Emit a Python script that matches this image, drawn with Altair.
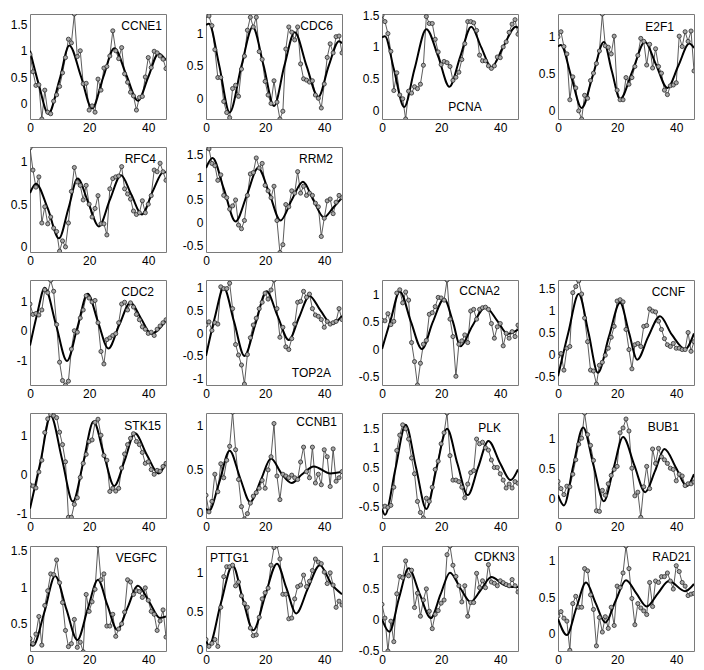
import altair as alt
import pandas as pd

# ---------------- data ----------------
hours = list(range(47))

CCNE1_obs = [0.93,0.6,0.34,0.35,-0.3,0.25,-0.17,-0.2,0.04,0.16,0.32,0.58,0.87,1.22,1.15,1.7,0.89,1.0,0.37,0.38,-0.13,-0.05,-0.17,0.46,0.25,0.67,0.7,0.9,1.38,1.0,0.85,1.06,0.56,0.4,0.21,0.14,-0.13,0.11,0.13,0.5,0.87,0.68,0.99,0.96,0.9,0.84,0.66]
CCNE1_fit_t = [0,3,6.2,10,13.3,17.3,21,24.8,28.5,32.5,36.5,40,43.5,46]
CCNE1_fit_v = [1.0,0.35,-0.2,0.45,1.1,0.5,-0.1,0.5,1.05,0.55,0.05,0.5,0.95,0.82]

CDC6_obs = [1.28,1.27,1.12,0.75,0.32,0.32,-0.05,-0.22,-0.3,0.15,0.2,0.03,0.45,0.65,1.05,1.25,1.1,1.25,0.72,0.6,0.26,0.05,-0.08,0.27,-0.06,-0.32,-0.2,0.76,1.1,1.02,0.9,1.1,0.53,0.3,0.28,0.25,0.27,0.05,0.0,-0.15,0.22,0.63,0.84,0.7,0.95,0.96,0.7]
CDC6_fit_t = [0,1,4.5,8,12,15.8,19.5,23,26.5,30,34,38,41.5,45,46]
CDC6_fit_v = [1.13,1.15,0.5,-0.22,0.5,1.1,0.5,-0.12,0.5,1.02,0.5,0.02,0.5,0.88,0.85]

PCNA_obs = [1.5,1.4,1.21,0.93,0.31,0.59,0.24,0.18,-0.14,0.3,0.27,0.37,0.34,0.41,0.71,1.48,1.37,1.37,1.12,0.92,0.72,0.77,0.75,0.69,0.47,0.52,0.6,0.8,1.05,1.4,1.4,1.38,1.26,0.87,0.78,0.78,0.7,0.66,0.7,0.84,0.83,1.0,1.08,1.23,1.36,1.43,1.2]
PCNA_fit_t = [0,1,4,7.5,11,15,19,22.8,26.5,30.2,33.5,37,41,45.3,46]
PCNA_fit_v = [1.15,1.17,0.65,0.05,0.65,1.28,0.85,0.37,0.85,1.32,1.0,0.68,1.0,1.32,1.3]

E2F1_obs = [0.99,1.06,0.86,0.76,0.14,0.45,0.3,-0.01,-0.12,0.2,0.16,0.4,0.5,0.63,0.8,1.3,0.87,0.85,0.76,1.0,0.27,0.14,0.14,0.44,0.35,0.44,0.59,0.74,0.97,0.93,0.61,0.89,0.57,0.83,0.59,0.5,0.27,0.21,0.33,0.34,0.37,1.0,0.86,1.06,0.93,1.07,0.53]
E2F1_fit_t = [0,1,4.5,8,11.8,15.5,18.2,21,25.2,29.4,33.2,37,40.7,44.4,46]
E2F1_fit_v = [0.86,0.88,0.45,0.03,0.47,0.92,0.53,0.15,0.53,0.92,0.61,0.3,0.6,0.9,0.84]

RFC4_obs = [1.16,0.9,0.7,0.82,0.28,0.47,0.27,0.35,0.22,0.18,-0.05,0.07,0.0,0.28,0.65,0.93,0.76,0.72,0.55,0.72,0.5,0.35,0.45,0.6,0.27,0.27,0.14,0.68,0.8,0.82,0.83,0.94,0.68,0.62,0.56,0.42,0.38,0.4,0.54,0.4,0.5,0.6,0.9,0.88,0.98,0.88,0.78]
RFC4_fit_t = [0,2,6,9.8,13,16.1,19.7,23.3,27,30.8,34.3,37.8,41.5,45.2,46]
RFC4_fit_v = [0.63,0.74,0.45,0.1,0.45,0.8,0.52,0.24,0.55,0.84,0.61,0.38,0.65,0.88,0.87]

RRM2_obs = [1.65,1.62,1.3,1.25,0.93,1.05,0.6,0.55,0.3,0.37,0.5,-0.05,-0.13,0.05,0.6,1.07,1.1,1.42,1.2,1.3,0.82,0.7,0.55,0.8,0.05,-0.65,-0.48,0.4,0.35,0.7,0.65,1.12,0.65,0.8,0.6,0.65,0.6,0.43,0.35,-0.3,0.1,0.48,0.52,0.2,0.45,0.6,0.55]
RRM2_fit_t = [0,2.2,6,10,13.8,17.6,21.4,25.2,29,32.8,36.3,39.9,43,46]
RRM2_fit_v = [1.2,1.42,0.75,0.03,0.6,1.2,0.65,0.05,0.5,0.9,0.5,0.12,0.33,0.55]

CDC2_obs = [0.9,0.55,0.58,0.53,0.7,1.38,1.28,1.7,1.33,0.21,-1.06,-1.68,-1.83,-1.7,-0.62,0.0,-0.05,0.43,0.7,1.18,1.1,0.97,1.02,0.27,-0.7,-1.12,-0.3,-0.24,-0.16,-0.1,0.27,0.9,0.96,0.7,0.94,0.8,0.55,0.37,0.13,0.05,-0.09,-0.05,-0.16,0.05,0.16,0.27,0.37]
CDC2_fit_t = [0,2.5,5,8.8,12.5,16,19.5,23,26.5,30.2,34,37.5,41,46]
CDC2_fit_v = [-0.5,0.6,1.45,0.2,-1.02,0.1,1.25,0.3,-0.6,0.2,0.95,0.42,-0.1,0.35]

TOP2A_obs = [0.18,0.25,0.06,0.23,0.2,1.02,0.98,0.98,1.1,0.54,-0.25,-0.48,-0.7,-1.12,-0.47,-0.1,0.18,0.33,0.54,0.68,0.88,0.75,0.95,1.17,0.54,-0.09,0.13,-0.3,-0.36,-0.12,0.2,0.68,0.7,0.92,0.79,0.86,0.54,0.4,0.37,0.3,0.13,0.26,0.2,0.23,0.26,0.54,0.3]
TOP2A_fit_t = [0,3,6,9.5,13,16.7,20.5,24.2,28,31.5,35,38.7,42.5,46]
TOP2A_fit_v = [-0.5,0.35,1.0,0.25,-0.5,0.2,0.92,0.38,-0.15,0.35,0.82,0.5,0.2,0.38]

CCNA2_obs = [0.53,0.52,0.65,0.45,0.51,1.03,1.09,0.85,1.05,0.9,0.12,-0.23,-0.66,-0.26,0.09,0.16,0.64,0.67,0.78,0.95,0.94,0.9,1.27,0.55,0.23,-0.5,0.09,0.15,0.26,0.12,0.7,0.73,0.55,0.73,0.76,0.77,0.73,0.47,0.2,0.41,0.47,0.06,0.29,0.2,0.32,0.23,0.44]
CCNA2_fit_t = [0,3,6,9.8,13.5,17.2,21,24,26.5,30.5,35,39,42.5,46]
CCNA2_fit_v = [0.0,0.55,1.06,0.5,0.0,0.5,0.92,0.5,0.05,0.42,0.77,0.52,0.28,0.36]

CCNF_obs = [-0.04,0.02,-0.36,0.14,0.18,1.41,1.55,1.68,1.38,0.83,0.29,-0.36,-0.38,-0.68,-0.25,-0.18,-0.02,0.14,0.39,0.64,1.22,1.25,1.2,0.57,0.11,-0.33,0.22,0.25,0.18,0.64,0.66,1.04,0.99,0.97,0.76,0.57,0.36,0.22,0.18,0.25,0.14,0.14,0.11,0.11,0.5,0.07,0.29]
CCNF_fit_t = [0,3.5,7,10.3,13.5,17.2,21,24,26.8,30.5,34.5,38.5,43,46]
CCNF_fit_v = [-0.5,0.5,1.38,0.5,-0.42,0.4,1.18,0.5,-0.12,0.4,0.87,0.45,0.12,0.48]

STK15_obs = [-0.27,-0.3,-0.35,0.06,0.36,1.07,1.42,1.53,1.5,1.45,1.08,0.76,0.32,-1.1,-1.1,-0.77,-0.6,-0.08,0.28,0.51,0.84,0.88,1.33,1.41,1.0,0.48,0.36,-0.44,-0.36,-0.43,-0.36,0.16,0.52,0.76,0.92,1.04,0.84,0.76,0.56,0.28,0.32,0.12,0.0,0.1,0.08,0.2,0.28]
STK15_fit_t = [0,3.5,7,10.8,14.5,18,21.5,25,28.5,32,35.5,39.5,43.5,46]
STK15_fit_v = [-0.88,0.3,1.5,0.4,-0.7,0.3,1.35,0.5,-0.3,0.35,1.05,0.5,0.02,0.3]

CCNB1_obs = [0.2,0.01,0.13,0.44,0.24,0.56,0.4,0.6,0.76,1.15,0.72,0.38,0.07,-0.07,-0.01,0.11,0.19,0.23,0.28,0.37,0.28,0.49,0.64,1.02,0.42,0.15,0.44,0.42,0.4,0.43,0.4,0.38,0.58,0.75,0.47,0.4,0.75,0.34,0.44,0.32,0.72,0.64,0.3,0.73,0.36,0.4,0.47]
CCNB1_fit_t = [0,1,4.5,8,11.5,15,18.5,22,25.5,29,32.5,36.5,42,46]
CCNB1_fit_v = [0.05,0.02,0.35,0.71,0.4,0.12,0.37,0.62,0.45,0.34,0.44,0.53,0.45,0.47]

PLK_obs = [-0.5,-0.48,-0.51,-0.46,0.0,0.93,1.32,1.58,1.48,1.22,0.74,0.34,-0.36,-0.64,-0.78,-0.28,-0.36,0.0,0.45,0.66,1.1,1.38,1.88,0.8,0.18,0.18,0.14,0.0,-0.27,0.08,0.37,0.42,1.22,1.1,1.14,1.0,0.94,0.69,0.5,0.5,0.34,0.18,-0.02,0.08,-0.02,0.14,0.1]
PLK_fit_t = [0,1,4.5,8,11.5,15,18.5,22,25.5,29,32.5,36,40,43.5,46]
PLK_fit_v = [-0.55,-0.7,0.45,1.58,0.5,-0.55,0.5,1.48,0.6,-0.2,0.5,1.17,0.6,0.18,0.45]

BUB1_obs = [0.28,0.16,0.06,0.2,0.19,0.4,0.64,0.9,1.0,1.42,1.06,0.88,0.63,-0.21,-0.22,0.13,0.05,0.24,0.38,0.48,0.53,1.09,1.17,1.32,1.12,0.5,0.04,0.1,-0.32,0.19,0.53,0.16,0.82,0.58,0.83,0.69,0.64,0.58,0.5,0.48,0.29,0.4,0.37,0.21,0.24,0.24,0.27]
BUB1_fit_t = [0,2,5.2,8.5,12,15.5,18.8,22,25.8,29.5,32.8,36,40,43.5,46]
BUB1_fit_v = [0.05,-0.12,0.55,1.18,0.55,-0.05,0.5,1.02,0.55,0.1,0.45,0.82,0.5,0.2,0.4]

VEGFC_obs = [0.3,0.23,0.36,0.6,0.21,0.75,0.95,1.18,1.17,1.37,1.06,0.79,0.41,0.19,0.23,0.56,0.18,0.25,0.12,0.9,0.67,0.8,0.97,1.57,1.1,1.18,0.47,0.47,0.63,0.33,0.43,0.5,0.66,1.1,1.07,0.9,0.95,0.94,0.86,0.99,0.82,0.67,0.63,0.41,0.54,0.69,0.32]
VEGFC_fit_t = [0,1,4.8,8.5,12.3,16,19.5,23,26.2,29.5,33,36.5,40.3,44,46]
VEGFC_fit_v = [0.22,0.2,0.65,1.15,0.7,0.28,0.7,1.1,0.75,0.42,0.72,1.02,0.8,0.58,0.6]

PTTG1_obs = [0.13,0.04,0.08,0.13,0.04,0.55,0.95,1.08,1.08,1.1,0.83,0.88,0.7,0.6,0.55,0.28,0.18,0.19,0.42,0.66,0.74,0.8,1.1,1.33,1.36,1.18,0.72,0.72,0.4,0.41,0.66,0.82,0.84,0.97,0.82,0.89,1.03,1.18,1.14,1.12,1.01,0.86,1.0,0.84,0.55,0.63,0.58]
PTTG1_fit_t = [0,1,5,9,12.5,16,20,24,27.2,30.5,34.5,38.5,42.5,46]
PTTG1_fit_v = [0.12,0.05,0.6,1.1,0.65,0.25,0.7,1.12,0.8,0.47,0.8,1.1,0.85,0.72]

CDKN3_obs = [0.24,0.02,-0.51,-0.03,-0.36,0.41,0.69,0.67,0.94,0.7,0.79,0.19,0.42,0.05,0.31,0.49,0.13,-0.15,0.08,0.14,0.26,0.31,1.04,1.18,0.87,0.69,0.54,0.28,0.54,0.05,0.27,0.27,0.74,0.51,0.62,0.51,0.88,0.6,0.58,0.54,0.62,0.59,0.56,0.54,0.64,0.54,0.44]
CDKN3_fit_t = [0,2.5,5.8,9,12.8,16.5,19.8,23,26.5,30,33.5,37,41,44,46]
CDKN3_fit_v = [0.0,-0.2,0.35,0.82,0.4,0.02,0.4,0.75,0.5,0.28,0.48,0.68,0.56,0.52,0.52]

RAD21_obs = [0.24,0.3,0.21,0.17,-0.23,0.41,0.51,0.36,0.36,0.89,0.86,0.53,0.33,-0.17,0.22,0.02,0.23,0.07,0.36,0.11,0.65,0.63,0.83,1.2,0.89,0.48,0.12,0.41,0.35,0.31,0.26,0.7,0.37,0.72,0.7,0.78,0.78,0.83,0.72,0.61,0.93,0.85,0.7,0.65,0.52,0.54,0.55]
RAD21_fit_t = [0,3,6.2,9.5,12.7,16,19.5,23,26.5,30,33.8,37.5,43,46]
RAD21_fit_v = [0.2,-0.02,0.35,0.7,0.42,0.15,0.45,0.73,0.55,0.37,0.55,0.72,0.58,0.68]

# y-axis domain and tick values for each panel
y_domains = {
    "CCNE1": [-0.3, 1.7], "CDC6": [-0.32, 1.3], "PCNA": [-0.14, 1.52], "E2F1": [-0.12, 1.3],
    "RFC4": [-0.06, 1.17], "RRM2": [-0.64, 1.66],
    "CDC2": [-1.83, 1.71], "TOP2A": [-1.14, 1.17], "CCNA2": [-0.66, 1.27], "CCNF": [-0.7, 1.7],
    "STK15": [-1.12, 1.57], "CCNB1": [-0.06, 1.14], "PLK": [-0.78, 1.88], "BUB1": [-0.33, 1.42],
    "VEGFC": [0.13, 1.56], "PTTG1": [-0.02, 1.35], "CDKN3": [-0.51, 1.18], "RAD21": [-0.24, 1.2],
}
y_ticks = {
    "CCNE1": [0, 0.5, 1, 1.5], "CDC6": [0, 0.5, 1], "PCNA": [0, 0.5, 1, 1.5], "E2F1": [0, 0.5, 1],
    "RFC4": [0, 0.5, 1], "RRM2": [-0.5, 0, 0.5, 1, 1.5],
    "CDC2": [-1, 0, 1], "TOP2A": [-1, -0.5, 0, 0.5, 1], "CCNA2": [-0.5, 0, 0.5, 1], "CCNF": [-0.5, 0, 0.5, 1, 1.5],
    "STK15": [-1, 0, 1], "CCNB1": [0, 0.5, 1], "PLK": [-0.5, 0, 0.5, 1, 1.5], "BUB1": [0, 0.5, 1],
    "VEGFC": [0.5, 1, 1.5], "PTTG1": [0, 0.5, 1], "CDKN3": [-0.5, 0, 0.5, 1], "RAD21": [0, 0.5, 1],
}
x_ticks = [0, 20, 40]

layout_rows = [
    ["CCNE1", "CDC6", "PCNA", "E2F1"],
    ["RFC4", "RRM2", None, None],
    ["CDC2", "TOP2A", "CCNA2", "CCNF"],
    ["STK15", "CCNB1", "PLK", "BUB1"],
    ["VEGFC", "PTTG1", "CDKN3", "RAD21"],
]

series = {
    "CCNE1": (CCNE1_obs, CCNE1_fit_t, CCNE1_fit_v), "CDC6": (CDC6_obs, CDC6_fit_t, CDC6_fit_v),
    "PCNA": (PCNA_obs, PCNA_fit_t, PCNA_fit_v), "E2F1": (E2F1_obs, E2F1_fit_t, E2F1_fit_v),
    "RFC4": (RFC4_obs, RFC4_fit_t, RFC4_fit_v), "RRM2": (RRM2_obs, RRM2_fit_t, RRM2_fit_v),
    "CDC2": (CDC2_obs, CDC2_fit_t, CDC2_fit_v), "TOP2A": (TOP2A_obs, TOP2A_fit_t, TOP2A_fit_v),
    "CCNA2": (CCNA2_obs, CCNA2_fit_t, CCNA2_fit_v), "CCNF": (CCNF_obs, CCNF_fit_t, CCNF_fit_v),
    "STK15": (STK15_obs, STK15_fit_t, STK15_fit_v), "CCNB1": (CCNB1_obs, CCNB1_fit_t, CCNB1_fit_v),
    "PLK": (PLK_obs, PLK_fit_t, PLK_fit_v), "BUB1": (BUB1_obs, BUB1_fit_t, BUB1_fit_v),
    "VEGFC": (VEGFC_obs, VEGFC_fit_t, VEGFC_fit_v), "PTTG1": (PTTG1_obs, PTTG1_fit_t, PTTG1_fit_v),
    "CDKN3": (CDKN3_obs, CDKN3_fit_t, CDKN3_fit_v), "RAD21": (RAD21_obs, RAD21_fit_t, RAD21_fit_v),
}

# ---------------- styling ----------------
W, H = 136, 105
FONT = "Liberation Sans"

# gene-name label placement: (align, offset from left/right edge, y from top)
label_style = {
    "CCNE1": ("right", 4, 12), "CDC6": ("right", 9, 12), "PCNA": ("center", None, H - 12),
    "E2F1": ("right", 20, 13), "RFC4": ("right", 10, 12), "RRM2": ("right", 9, 12),
    "CDC2": ("right", 12, 12), "TOP2A": ("right", 11, H - 12), "CCNA2": ("right", 18, 11),
    "CCNF": ("right", 9, 12), "STK15": ("right", 5, 13), "CCNB1": ("right", 5, 9),
    "PLK": ("right", 17, 15), "BUB1": ("right", 15, 14), "VEGFC": ("right", 9, 12),
    "PTTG1": ("left", 4, 12), "CDKN3": ("right", 3, 11), "RAD21": ("right", 3, 11),
}


def panel(gene):
    obs, ft, fv = series[gene]
    df_obs = pd.DataFrame({"t": hours, "v": obs})
    df_fit = pd.DataFrame({"t": ft, "v": fv})
    xs = alt.Scale(domain=[0, 46], nice=False, zero=False)
    ys = alt.Scale(domain=y_domains[gene], nice=False, zero=False)
    xe = alt.X("t:Q", scale=xs, axis=alt.Axis(values=x_ticks, title=None))
    ye = alt.Y("v:Q", scale=ys,
               axis=alt.Axis(values=y_ticks[gene], title=None, labelExpr="'' + datum.value"))
    raw_line = alt.Chart(df_obs).mark_line(color="#4a4a4a", strokeWidth=0.9, clip=True).encode(x=xe, y=ye)
    raw_pts = alt.Chart(df_obs).mark_circle(size=17, color="#a6a6a6", opacity=1, stroke="#2b2b2b",
                                            strokeWidth=0.8, clip=True).encode(x=xe, y=ye)
    fit = alt.Chart(df_fit).mark_line(color="black", strokeWidth=2, interpolate="monotone",
                                      clip=True).encode(x=xe, y=ye)
    align, off, ypos = label_style[gene]
    if align == "right":
        xpos = W - off
    elif align == "left":
        xpos = off
    else:
        xpos = round(W * 0.61)
    lab = alt.Chart(pd.DataFrame({"g": [gene]})).mark_text(
        align=align, baseline="middle", font=FONT, fontSize=12, color="black"
    ).encode(x=alt.value(xpos), y=alt.value(ypos), text="g:N")
    return alt.layer(raw_line, fit, raw_pts, lab).properties(width=W, height=H)


def blank():
    return alt.Chart(pd.DataFrame({"t": [0], "v": [0]})).mark_point(opacity=0).encode(
        x=alt.X("t:Q", axis=None), y=alt.Y("v:Q", axis=None)
    ).properties(width=W, height=H, view=alt.ViewBackground(strokeOpacity=0))


cells = []
for row in layout_rows:
    for g in row:
        cells.append(panel(g) if g else blank())

chart = alt.concat(
    *cells, columns=4, spacing={"row": 28, "column": 40}, bounds="flush"
).resolve_scale(
    x="independent", y="independent"
).properties(
    padding={"left": 1, "top": 0, "right": 1, "bottom": 0}, background="white"
).configure_view(
    stroke="#7a7a7a", strokeWidth=1
).configure_axis(
    labelFont=FONT, labelFontSize=12, labelColor="black", ticks=False, domain=False,
    grid=False, labelPadding=3, labelFlush=False, labelOverlap=False
)

chart.save("out.html", embed_options={"renderer": "svg", "actions": False})
